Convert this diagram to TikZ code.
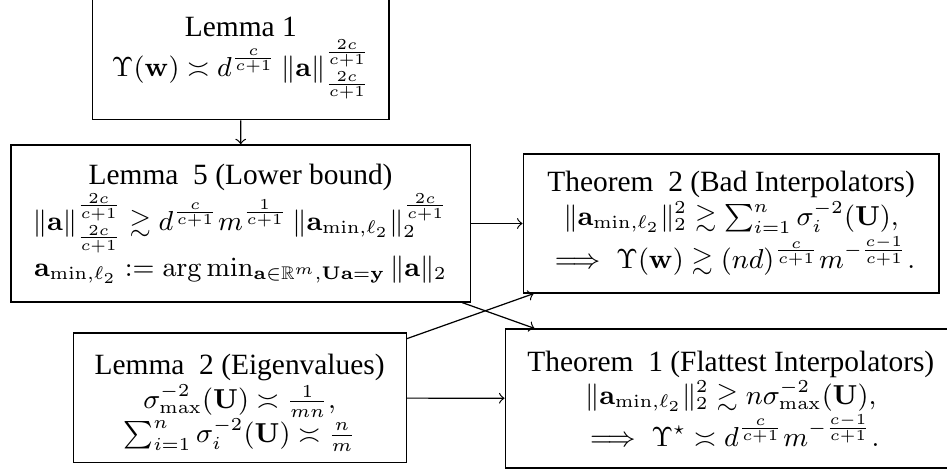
\documentclass[tikz,border=0pt]{standalone}
\usepackage{amsmath,amssymb}
\usepackage[no-math]{fontspec}
\setmainfont{Liberation Serif}[Scale=1.072]
\usepackage{tikz}
\usetikzlibrary{positioning, calc}
\tikzset{block/.style={draw, align=center, inner sep=2pt, font=\fontsize{9pt}{11pt}\selectfont},
line/.style={->}
}

\begin{document}
\begin{tikzpicture}
\useasboundingbox (0pt,0pt) rectangle (310.6pt,-153.8pt);
\node[block, minimum width=97.1pt, minimum height=40.5pt] (lemma1) at (79.0pt,-19.0pt) {Lemma 1\\ $\Upsilon(\mathbf{w}) \asymp d^{\frac{c}{c+1}}\,\|\mathbf{a}\|_{\frac{2c}{c+1}}^{\frac{2c}{c+1}}$};
\node[block, minimum width=150.6pt, minimum height=51.5pt] (lemma5) at (78.9pt,-73.3pt) {Lemma\ \ 5 (Lower bound)\\ $\|\mathbf{a}\|_{\frac{2c}{c+1}}^{\frac{2c}{c+1}} \gtrsim d^{\frac{c}{c+1}} m^{\frac{1}{c+1}}\,\|\mathbf{a}_{\min,\ell_2}\|_2^{\frac{2c}{c+1}}$\\ $\mathbf{a}_{\min,\ell_2} := \arg\min_{\mathbf{a}\in\mathbb{R}^m,\mathbf{U}\mathbf{a}=\mathbf{y}} \|\mathbf{a}\|_2$};
 % the theorems on the right
\node[block, minimum width=136.4pt, minimum height=45.6pt] (thm2) at (239.8pt,-73.3pt) {Theorem\ \ 2 (Bad Interpolators)\\ $\|\mathbf{a}_{\min,\ell_2}\|_2^2 \gtrsim \sum_{i=1}^n \sigma_i^{-2}(\mathbf{U}),$\\ $\implies \Upsilon(\mathbf{w}) \gtrsim (nd)^{\frac{c}{c+1}} m^{-\frac{c-1}{c+1}}.$};
\node[block, minimum width=109.2pt, minimum height=42.6pt] (lemma2) at (78.6pt,-130.5pt) {\rule{0pt}{10pt}Lemma\ \ 2 (Eigenvalues)\\ $\sigma_{\max}^{-2}(\mathbf{U}) \asymp \frac{1}{mn},$\\ $\sum_{i=1}^n \sigma_i^{-2}(\mathbf{U}) \asymp \frac{n}{m}$};
\node[block, minimum width=148pt, minimum height=45.6pt] (thm1) at (239.7pt,-130.7pt) {Theorem\ \ 1 (Flattest Interpolators)\\ $\|\mathbf{a}_{\min,\ell_2}\|_2^2 \gtrsim n\sigma_{\max}^{-2}(\mathbf{U}),$\\ $\implies \Upsilon^\star \asymp d^{\frac{c}{c+1}} m^{-\frac{c-1}{c+1}}.$};
  \draw[line] (lemma1) -- (lemma5);
  \draw[line] (lemma5) -- (thm2);
  \draw[line] (lemma5) -- (thm1);
  \draw[line] (lemma2) -- (thm2);
  \draw[line] (lemma2) -- (thm1);
\end{tikzpicture}
\end{document}
